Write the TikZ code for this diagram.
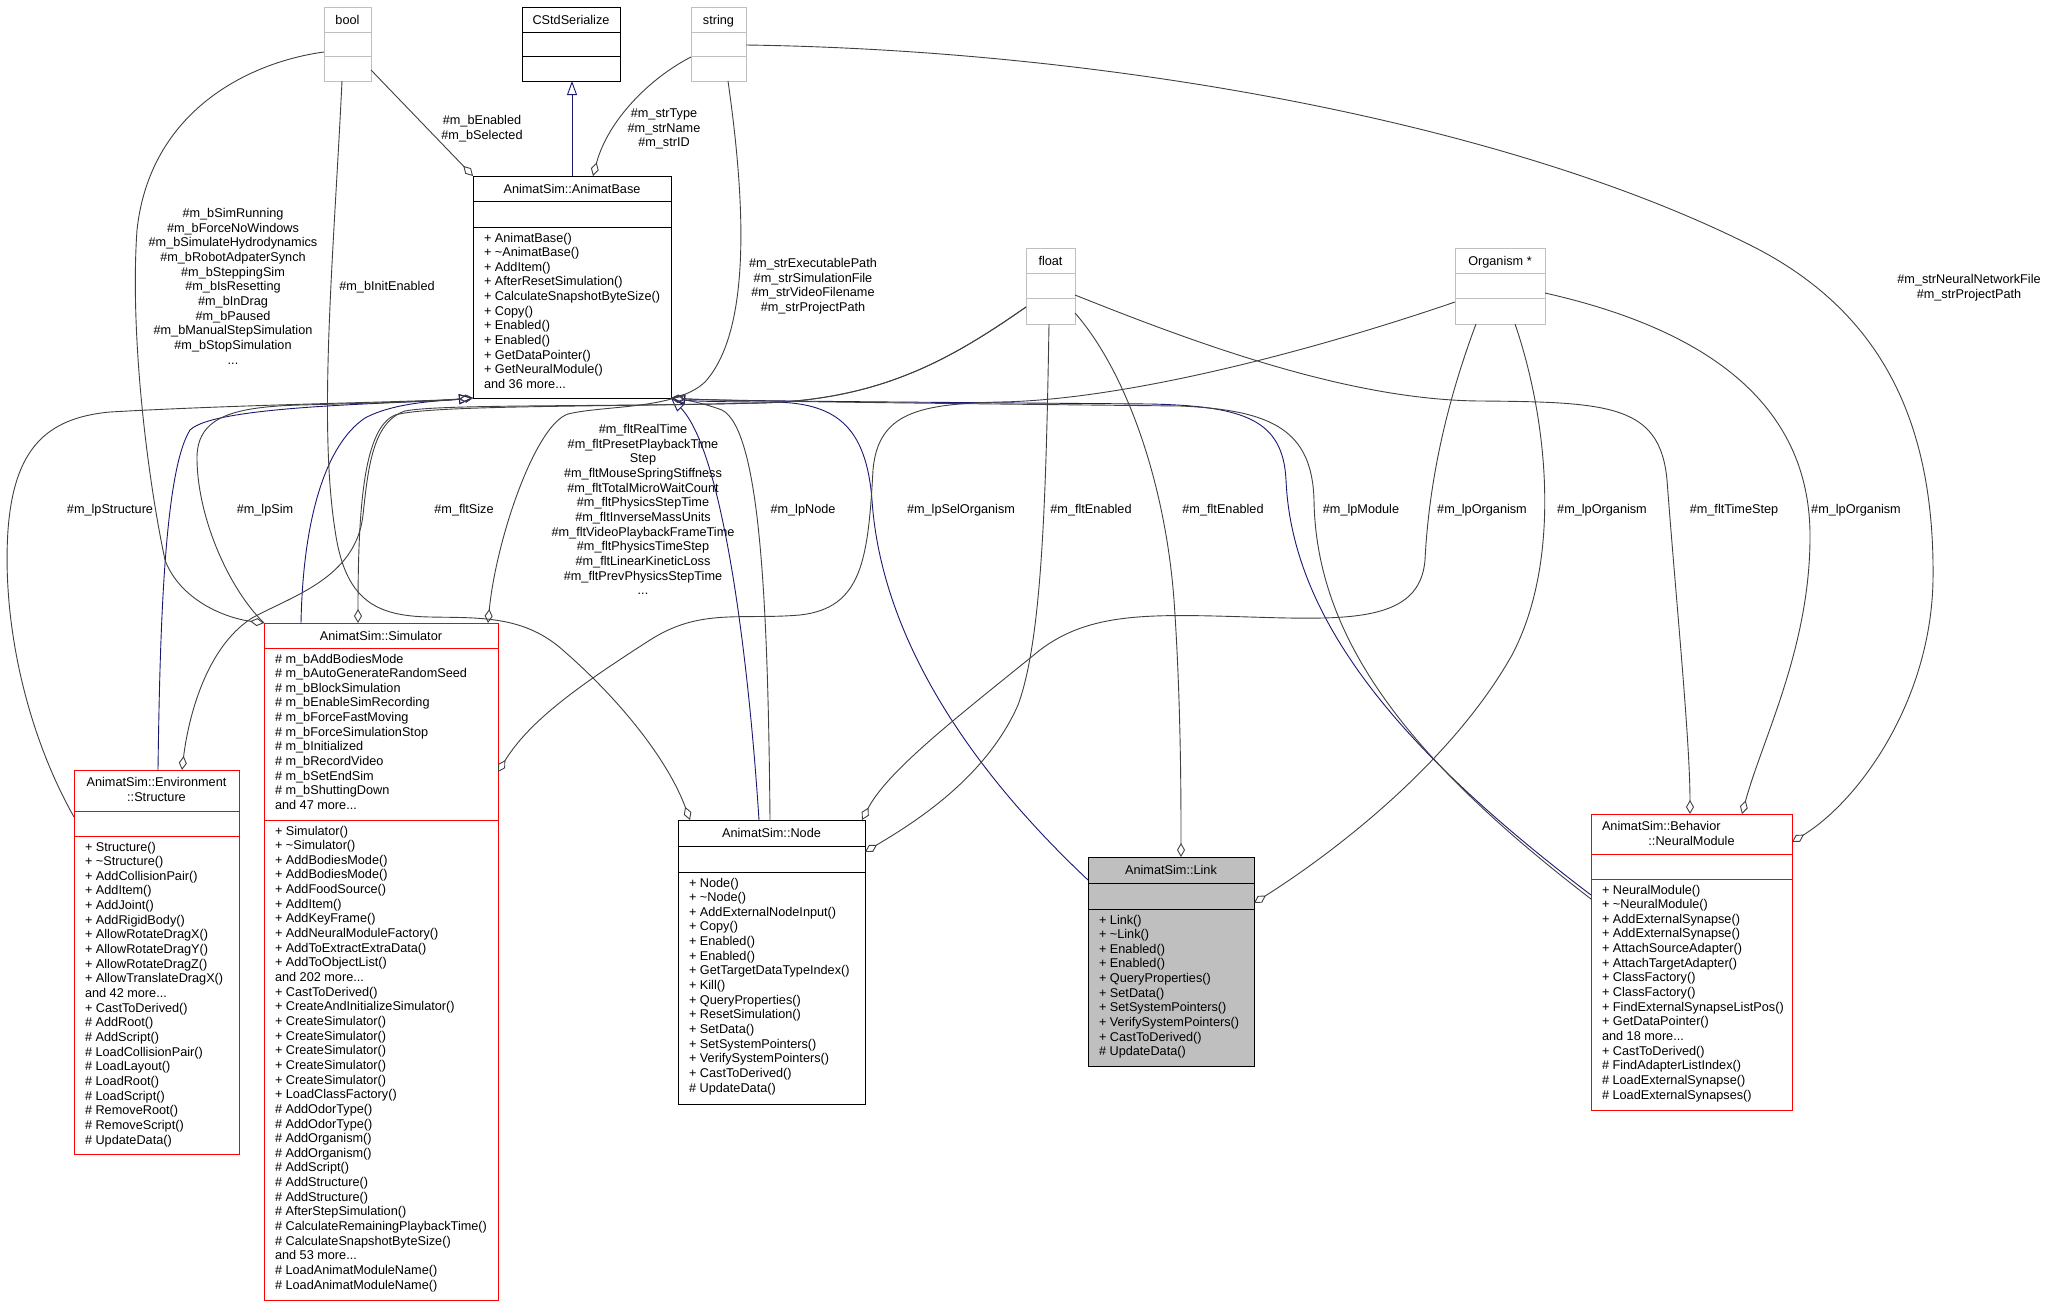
\documentclass[tikz,border=0pt]{standalone}
\usepackage{fontspec}
\setmainfont{Liberation Sans}
\usetikzlibrary{arrows.meta}
\definecolor{egrey}{HTML}{404040}
\definecolor{eblue}{HTML}{191970}
\definecolor{lgrey}{HTML}{BFBFBF}
\definecolor{cred}{HTML}{FF0000}
\newcommand{\fl}{\rule{0pt}{11pt}}
\begin{document}
\begin{tikzpicture}[x=1pt,y=-1pt,
  every node/.style={font=\fontsize{12.7pt}{14.65pt}\selectfont, inner sep=0pt, outer sep=0pt},
  box/.style={draw, line width=1pt, anchor=north west, inner sep=0pt, outer sep=0pt},
  ttl/.style={anchor=base},
  mem/.style={anchor=north west, align=left},
  lbl/.style={anchor=north, align=center},
  agg/.style={draw=egrey, line width=0.9pt, -{Diamond[open,length=14pt,width=8pt]}},
  inh/.style={draw=eblue, line width=0.9pt, -{Triangle[open,length=14pt,width=10pt]}},
  sep/.style={line width=1pt}
]
\fill[white] (0,0) rectangle (2048,1307);
\useasboundingbox (0,0) rectangle (2048,1307);

% ---------- boxes ----------
\node[box, draw=lgrey, minimum width=47pt, minimum height=74pt] (bool) at (324,7) {};
\draw[sep, lgrey] (bool.west |- 0,32) -- (bool.east |- 0,32) (bool.west |- 0,56) -- (bool.east |- 0,56);
\node[ttl] at (347.5,24) {bool};

\node[box, draw=black, minimum width=98pt, minimum height=74pt] (cstd) at (522,7) {};
\draw[sep] (cstd.west |- 0,32) -- (cstd.east |- 0,32) (cstd.west |- 0,56) -- (cstd.east |- 0,56);
\node[ttl] at (571,24) {CStdSerialize};

\node[box, draw=lgrey, minimum width=55pt, minimum height=74pt] (string) at (691,7) {};
\draw[sep, lgrey] (string.west |- 0,32) -- (string.east |- 0,32) (string.west |- 0,56) -- (string.east |- 0,56);
\node[ttl] at (718.5,24) {string};

\node[box, draw=black, minimum width=198pt, minimum height=222pt] (ab) at (473,176) {};
\draw[sep] (ab.west |- 0,201) -- (ab.east |- 0,201) (ab.west |- 0,227) -- (ab.east |- 0,227);
\node[ttl] at (572,193) {AnimatSim::AnimatBase};
\node[mem] at (484,231) {\fl+ AnimatBase()\\+ \textasciitilde AnimatBase()\\+ AddItem()\\+ AfterResetSimulation()\\+ CalculateSnapshotByteSize()\\+ Copy()\\+ Enabled()\\+ Enabled()\\+ GetDataPointer()\\+ GetNeuralModule()\\and 36 more...};

\node[box, draw=lgrey, minimum width=49pt, minimum height=76pt] (float) at (1026,248) {};
\draw[sep, lgrey] (float.west |- 0,273) -- (float.east |- 0,273) (float.west |- 0,298) -- (float.east |- 0,298);
\node[ttl] at (1050.5,265) {float};

\node[box, draw=lgrey, minimum width=90pt, minimum height=76pt] (org) at (1455,248) {};
\draw[sep, lgrey] (org.west |- 0,273) -- (org.east |- 0,273) (org.west |- 0,298) -- (org.east |- 0,298);
\node[ttl] at (1500,265) {Organism *};

\node[box, draw=cred, minimum width=165pt, minimum height=384pt] (struct) at (74,770) {};
\draw[sep, cred] (struct.west |- 0,811) -- (struct.east |- 0,811) (struct.west |- 0,836) -- (struct.east |- 0,836);
\node[lbl] at (156.5,775.5) {\fl AnimatSim::Environment\\::Structure};
\node[mem] at (85,840) {\fl+ Structure()\\+ \textasciitilde Structure()\\+ AddCollisionPair()\\+ AddItem()\\+ AddJoint()\\+ AddRigidBody()\\+ AllowRotateDragX()\\+ AllowRotateDragY()\\+ AllowRotateDragZ()\\+ AllowTranslateDragX()\\and 42 more...\\+ CastToDerived()\\\# AddRoot()\\\# AddScript()\\\# LoadCollisionPair()\\\# LoadLayout()\\\# LoadRoot()\\\# LoadScript()\\\# RemoveRoot()\\\# RemoveScript()\\\# UpdateData()};

\node[box, draw=cred, minimum width=234pt, minimum height=677pt] (sim) at (264,623) {};
\draw[sep, cred] (sim.west |- 0,648) -- (sim.east |- 0,648) (sim.west |- 0,820) -- (sim.east |- 0,820);
\node[ttl] at (381,640) {AnimatSim::Simulator};
\node[mem] at (275,652) {\fl\# m\_bAddBodiesMode\\\# m\_bAutoGenerateRandomSeed\\\# m\_bBlockSimulation\\\# m\_bEnableSimRecording\\\# m\_bForceFastMoving\\\# m\_bForceSimulationStop\\\# m\_bInitialized\\\# m\_bRecordVideo\\\# m\_bSetEndSim\\\# m\_bShuttingDown\\and 47 more...};
\node[mem] at (275,824) {\fl+ Simulator()\\+ \textasciitilde Simulator()\\+ AddBodiesMode()\\+ AddBodiesMode()\\+ AddFoodSource()\\+ AddItem()\\+ AddKeyFrame()\\+ AddNeuralModuleFactory()\\+ AddToExtractExtraData()\\+ AddToObjectList()\\and 202 more...\\+ CastToDerived()\\+ CreateAndInitializeSimulator()\\+ CreateSimulator()\\+ CreateSimulator()\\+ CreateSimulator()\\+ CreateSimulator()\\+ CreateSimulator()\\+ LoadClassFactory()\\\# AddOdorType()\\\# AddOdorType()\\\# AddOrganism()\\\# AddOrganism()\\\# AddScript()\\\# AddStructure()\\\# AddStructure()\\\# AfterStepSimulation()\\\# CalculateRemainingPlaybackTime()\\\# CalculateSnapshotByteSize()\\and 53 more...\\\# LoadAnimatModuleName()\\\# LoadAnimatModuleName()};

\node[box, draw=black, minimum width=187pt, minimum height=284pt] (node) at (678,820) {};
\draw[sep] (node.west |- 0,846) -- (node.east |- 0,846) (node.west |- 0,872) -- (node.east |- 0,872);
\node[ttl] at (771.5,837.5) {AnimatSim::Node};
\node[mem] at (689,876) {\fl+ Node()\\+ \textasciitilde Node()\\+ AddExternalNodeInput()\\+ Copy()\\+ Enabled()\\+ Enabled()\\+ GetTargetDataTypeIndex()\\+ Kill()\\+ QueryProperties()\\+ ResetSimulation()\\+ SetData()\\+ SetSystemPointers()\\+ VerifySystemPointers()\\+ CastToDerived()\\\# UpdateData()};

\node[box, draw=black, fill=lgrey, minimum width=166pt, minimum height=209pt] (link) at (1088,857) {};
\draw[sep] (link.west |- 0,883) -- (link.east |- 0,883) (link.west |- 0,909) -- (link.east |- 0,909);
\node[ttl] at (1171,874.5) {AnimatSim::Link};
\node[mem] at (1099,913) {\fl+ Link()\\+ \textasciitilde Link()\\+ Enabled()\\+ Enabled()\\+ QueryProperties()\\+ SetData()\\+ SetSystemPointers()\\+ VerifySystemPointers()\\+ CastToDerived()\\\# UpdateData()};

\node[box, draw=cred, minimum width=201pt, minimum height=296pt] (nm) at (1591,814) {};
\draw[sep, cred] (nm.west |- 0,854) -- (nm.east |- 0,854) (nm.west |- 0,879) -- (nm.east |- 0,879);
\node[anchor=base west] at (1602,830.5) {AnimatSim::Behavior};
\node[ttl] at (1691.5,845.5) {::NeuralModule};
\node[mem] at (1602,883) {\fl+ NeuralModule()\\+ \textasciitilde NeuralModule()\\+ AddExternalSynapse()\\+ AddExternalSynapse()\\+ AttachSourceAdapter()\\+ AttachTargetAdapter()\\+ ClassFactory()\\+ ClassFactory()\\+ FindExternalSynapseListPos()\\+ GetDataPointer()\\and 18 more...\\+ CastToDerived()\\\# FindAdapterListIndex()\\\# LoadExternalSynapse()\\\# LoadExternalSynapses()};

% ---------- inheritance ----------
\draw[inh] (ab.north) -- (ab.north |- cstd.south);
\draw[inh] (struct.north -| 158,0) .. controls (160,620) and (165,470) .. (190,430) .. controls (215,405) and (400,404) .. (ab.south west);
\draw[inh] (sim.north -| 301,0) .. controls (303,520) and (325,445) .. (365,418) .. controls (395,402) and (440,401) .. (ab.south west);
\draw[inh] (node.north -| 759,0) .. controls (748,650) and (722,450) .. (ab.south east);
\draw[inh] (link.west |- 0,880) .. controls (950,750) and (880,620) .. (872,500) .. controls (866,425) and (835,402) .. (770,402) .. controls (720,402) and (690,401) .. (ab.south east);
\draw[inh] (nm.west |- 0,895) .. controls (1400,750) and (1292,620) .. (1286,480) .. controls (1283,420) and (1245,406) .. (1150,404) .. controls (900,402) and (720,401) .. (ab.south east);

% ---------- aggregation ----------
\draw[agg] (bool.east |- 0,70) -- (ab.north west);
\draw[agg] (string.west |- 0,57) .. controls (650,78) and (608,120) .. (ab.north -| 593,0);
\draw[agg] (bool.west |- 0,52) .. controls (250,62) and (150,110) .. (137,230) .. controls (130,330) and (146,470) .. (165,560) .. controls (180,600) and (225,618) .. (sim.north west);
\draw[agg] (bool.south -| 342,0) .. controls (334,250) and (318,420) .. (335,530) .. controls (345,600) and (375,616) .. (430,617) .. controls (480,618) and (525,615) .. (565,652) .. controls (620,700) and (668,760) .. (node.north -| 690,0);
\draw[agg] (string.south -| 728,0) .. controls (745,200) and (752,330) .. (705,382) .. controls (675,410) and (605,405) .. (568,414) .. controls (535,425) and (496,540) .. (sim.north -| 488,0);
\draw[agg] (float.west |- 0,307) .. controls (950,360) and (880,400) .. (760,403) .. controls (600,407) and (430,405) .. (395,415) .. controls (365,428) and (358,500) .. (sim.north -| 358,0);
\draw[agg] (float.west |- 0,307) .. controls (950,360) and (880,400) .. (760,403) .. controls (600,407) and (440,404) .. (405,411) .. controls (372,422) and (368,470) .. (363,515) .. controls (356,578) and (292,596) .. (252,618) .. controls (205,648) and (188,720) .. (struct.north -| 182,0);
\draw[agg] (org.west |- 0,302) .. controls (1300,355) and (1120,400) .. (1000,402) .. controls (920,404) and (878,412) .. (873,470) .. controls (868,560) and (862,608) .. (800,615) .. controls (740,620) and (700,608) .. (650,640) .. controls (580,685) and (530,720) .. (sim.east |- 0,772);
\draw[agg] (float.south -| 1049,0) .. controls (1046,500) and (1042,640) .. (1018,705) .. controls (985,780) and (910,825) .. (node.east |- 0,852);
\draw[agg] (float.east |- 0,313) .. controls (1125,370) and (1165,480) .. (1174,600) .. controls (1181,700) and (1181,800) .. (link.north -| 1181,0);
\draw[agg] (float.east |- 0,295) .. controls (1200,345) and (1350,400) .. (1480,401) .. controls (1610,402) and (1660,405) .. (1667,480) .. controls (1676,600) and (1690,740) .. (nm.north -| 1690,0);
\draw[agg] (org.south -| 1476,0) .. controls (1440,420) and (1428,500) .. (1425,560) .. controls (1420,622) and (1350,620) .. (1250,617) .. controls (1150,614) and (1090,612) .. (1040,650) .. controls (960,715) and (888,770) .. (node.north -| 862,0);
\draw[agg] (org.south -| 1515,0) .. controls (1548,420) and (1562,560) .. (1512,655) .. controls (1450,765) and (1330,855) .. (link.east |- 0,903);
\draw[agg] (org.east |- 0,293) .. controls (1700,328) and (1812,400) .. (1810,540) .. controls (1809,650) and (1762,740) .. (nm.north -| 1742,0);
\draw[agg] (string.east |- 0,45) .. controls (1100,50) and (1500,120) .. (1750,245) .. controls (1880,310) and (1935,420) .. (1933,580) .. controls (1931,700) and (1860,800) .. (nm.east |- 0,842);
\draw[agg] (struct.west |- 0,817) .. controls (25,730) and (2,620) .. (8,530) .. controls (14,450) and (45,418) .. (110,412) .. controls (250,404) and (420,402) .. (ab.south west);
\draw[agg] (sim.north west) .. controls (230,590) and (198,520) .. (197,460) .. controls (196,418) and (230,407) .. (300,405) .. controls (380,403) and (440,401) .. (ab.south west);
\draw[agg] (node.north -| 770,0) .. controls (768,600) and (760,430) .. (722,410) .. controls (700,402) and (685,400) .. (ab.south east);
\draw[agg] (nm.west |- 0,899) .. controls (1410,760) and (1316,640) .. (1314,500) .. controls (1312,430) and (1272,410) .. (1180,406) .. controls (900,403) and (720,401) .. (ab.south east);

% ---------- labels ----------
\node[lbl] at (482,113.5) {\fl\#m\_bEnabled\\\#m\_bSelected};
\node[lbl] at (664,106.5) {\fl\#m\_strType\\\#m\_strName\\\#m\_strID};
\node[lbl] at (233,206.5) {\fl\#m\_bSimRunning\\\#m\_bForceNoWindows\\\#m\_bSimulateHydrodynamics\\\#m\_bRobotAdpaterSynch\\\#m\_bSteppingSim\\\#m\_bIsResetting\\\#m\_bInDrag\\\#m\_bPaused\\\#m\_bManualStepSimulation\\\#m\_bStopSimulation\\...};
\node[lbl] at (387,279.5) {\fl\#m\_bInitEnabled};
\node[lbl] at (813,256.5) {\fl\#m\_strExecutablePath\\\#m\_strSimulationFile\\\#m\_strVideoFilename\\\#m\_strProjectPath};
\node[lbl] at (643,422.5) {\fl\#m\_fltRealTime\\\#m\_fltPresetPlaybackTime\\Step\\\#m\_fltMouseSpringStiffness\\\#m\_fltTotalMicroWaitCount\\\#m\_fltPhysicsStepTime\\\#m\_fltInverseMassUnits\\\#m\_fltVideoPlaybackFrameTime\\\#m\_fltPhysicsTimeStep\\\#m\_fltLinearKineticLoss\\\#m\_fltPrevPhysicsStepTime\\...};
\node[lbl] at (110,502.5) {\fl\#m\_lpStructure};
\node[lbl] at (265,502.5) {\fl\#m\_lpSim};
\node[lbl] at (464,502.5) {\fl\#m\_fltSize};
\node[lbl] at (803,502.5) {\fl\#m\_lpNode};
\node[lbl] at (961,502.5) {\fl\#m\_lpSelOrganism};
\node[lbl] at (1091,502.5) {\fl\#m\_fltEnabled};
\node[lbl] at (1223,502.5) {\fl\#m\_fltEnabled};
\node[lbl] at (1361,502.5) {\fl\#m\_lpModule};
\node[lbl] at (1482,502.5) {\fl\#m\_lpOrganism};
\node[lbl] at (1602,502.5) {\fl\#m\_lpOrganism};
\node[lbl] at (1734,502.5) {\fl\#m\_fltTimeStep};
\node[lbl] at (1856,502.5) {\fl\#m\_lpOrganism};
\node[lbl] at (1969,272.5) {\fl\#m\_strNeuralNetworkFile\\\#m\_strProjectPath};
\end{tikzpicture}
\end{document}
